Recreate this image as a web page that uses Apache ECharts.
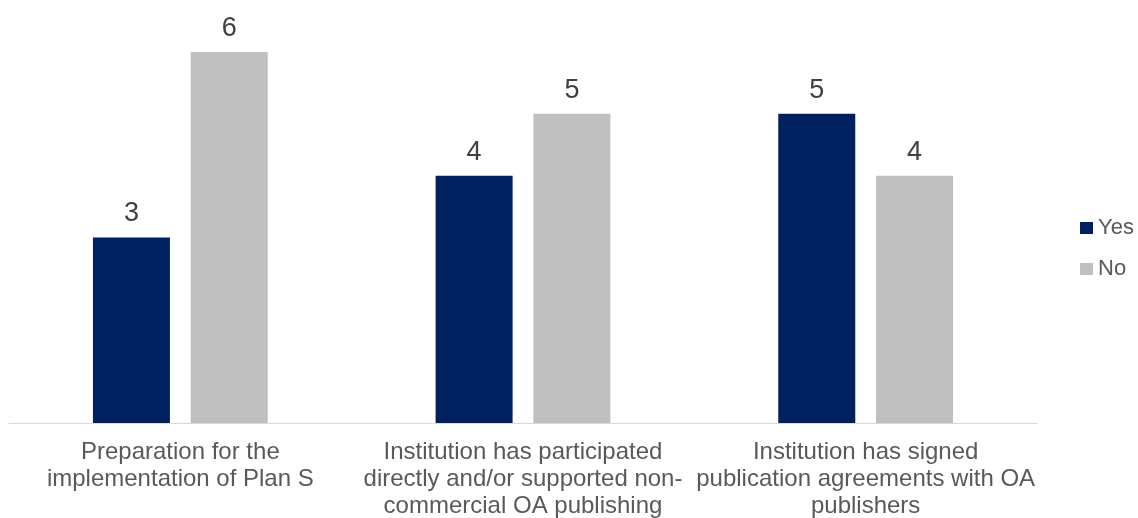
<!DOCTYPE html>
<html><head><meta charset="utf-8">
<script src="https://cdn.jsdelivr.net/npm/echarts@6/dist/echarts.min.js"></script>
<style>html,body{margin:0;padding:0;background:#fff}#c{width:1138px;height:518px}</style>
</head><body><div id="c"></div>
<script>
const categories = [
  "Preparation for the\nimplementation of Plan S",
  "Institution has participated\ndirectly and/or supported non-\ncommercial OA publishing",
  "Institution has signed\npublication agreements with OA\npublishers"
];
const seriesNames = ["Yes", "No"];
const yesValues = [3, 4, 5];
const noValues = [6, 5, 4];
const colors = ["#002060", "#bfbfbf"];
const font = "'Liberation Sans', Arial, sans-serif";

const chart = echarts.init(document.getElementById('c'));
const label = {show: true, position: 'top', distance: 10, fontSize: 27, color: '#404040', fontFamily: font};
chart.setOption({
  animation: false,
  grid: {left: 9, right: 101, top: 52, bottom: 95, containLabel: false, outerBoundsMode: 'none'},
  legend: {
    orient: 'vertical', left: 1075, top: 212,
    icon: 'rect', itemWidth: 13, itemHeight: 12, itemGap: 19,
    textStyle: {fontSize: 22, color: '#595959', fontFamily: font, lineHeight: 22},
    data: seriesNames
  },
  xAxis: {
    type: 'category', data: categories,
    axisLine: {lineStyle: {color: '#d9d9d9', width: 1}},
    axisTick: {show: false},
    axisLabel: {interval: 0, margin: 16, fontSize: 24, lineHeight: 27, color: '#595959', fontFamily: font}
  },
  yAxis: {type: 'value', min: 0, max: 6, show: false, splitLine: {show: false}},
  series: [
    {name: seriesNames[0], type: 'bar', data: yesValues, barWidth: 77, barGap: '27%', itemStyle: {color: colors[0]}, label: label},
    {name: seriesNames[1], type: 'bar', data: noValues, barWidth: 77, barGap: '27%', itemStyle: {color: colors[1]}, label: label}
  ]
});
</script></body></html>
